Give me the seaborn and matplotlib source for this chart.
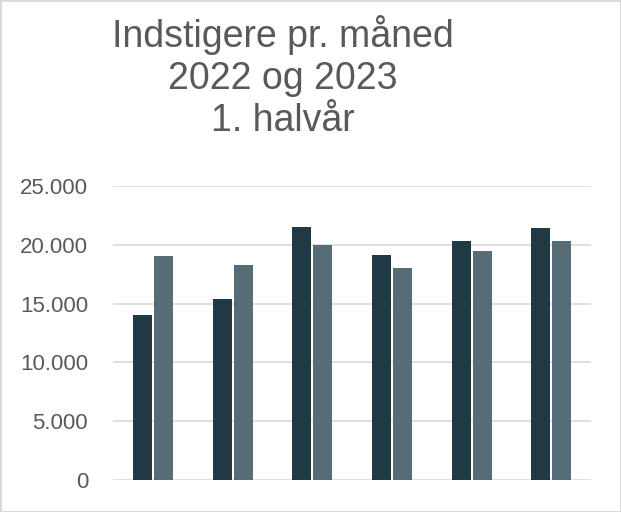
import numpy as np
import pandas as pd
import seaborn as sns
import matplotlib
matplotlib.use('Agg')
import matplotlib.pyplot as plt
from matplotlib.ticker import FuncFormatter

# Monthly boardings, first half year
months = ['jan', 'feb', 'mar', 'apr', 'maj', 'jun']
years = ['2022', '2023']
riders_2022 = [14000, 15350, 21500, 19100, 20350, 21400]
riders_2023 = [19050, 18250, 19950, 18000, 19500, 20350]
yticks = [0, 5000, 10000, 15000, 20000, 25000]

df = pd.DataFrame({
    'month': months * 2,
    'year': [years[0]] * len(months) + [years[1]] * len(months),
    'riders': riders_2022 + riders_2023,
})

sns.set_theme(style='white')
plt.rcParams['font.family'] = ['Liberation Sans', 'DejaVu Sans']

fig = plt.figure(figsize=(6.21, 5.12), dpi=100)
fig.patch.set_edgecolor('#d9d9d9')
fig.patch.set_linewidth(2)
ax = fig.add_axes([0.182, 0.062, 0.770, 0.575])

sns.barplot(data=df, x='month', y='riders', hue='year',
            palette=['#1f3a45', '#566c77'], saturation=1,
            width=0.53, gap=0.1, edgecolor='none', legend=False, ax=ax)

ax.set_ylim(0, 25000)
ax.set_yticks(yticks)
ax.yaxis.set_major_formatter(FuncFormatter(lambda v, p: f'{int(v):,}'.replace(',', '.')))
ax.grid(axis='y', color='#d9d9d9', linewidth=1.2)
ax.set_axisbelow(True)
ax.set_xticklabels([])
ax.set_xlabel('')
ax.set_ylabel('')
ax.tick_params(axis='y', labelsize=16, labelcolor='#595959', pad=18, length=0)
ax.tick_params(axis='x', length=0)
for s in ax.spines.values():
    s.set_visible(False)

fig.text(0.455, 0.85, 'Indstigere pr. måned\n2022 og 2023\n1. halvår',
         ha='center', va='center', fontsize=27, color='#595959', linespacing=1.22)

fig.savefig('out.png', dpi=100)
